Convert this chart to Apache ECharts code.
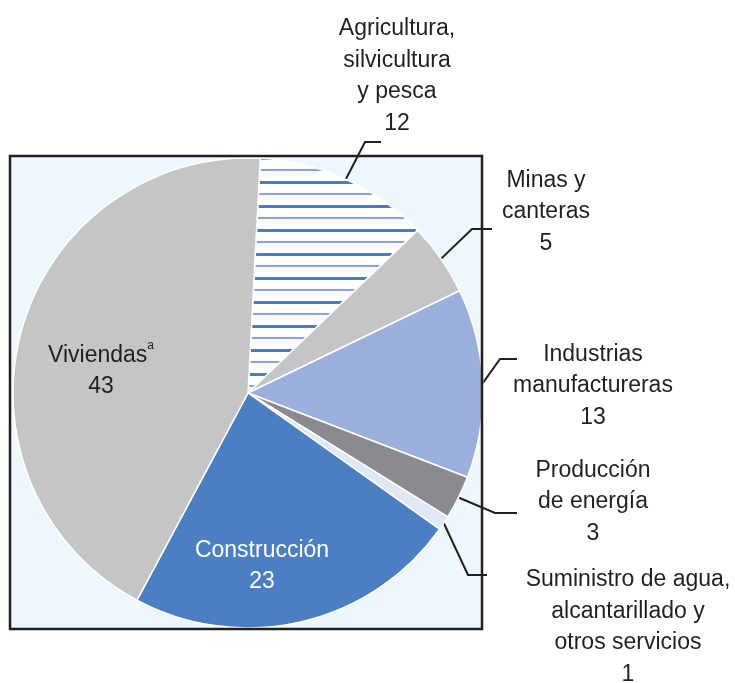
<!DOCTYPE html>
<html><head><meta charset="utf-8">
<script src="https://cdn.jsdelivr.net/npm/echarts@6/dist/echarts.min.js"></script>
<style>html,body{margin:0;padding:0;background:#fff}#c{width:735px;height:683px}</style>
</head><body><div id="c"></div>
<script>
// ---- data ----
const categories = [
  'Agricultura, silvicultura y pesca',
  'Minas y canteras',
  'Industrias manufactureras',
  'Producción de energía',
  'Suministro de agua, alcantarillado y otros servicios',
  'Construcción',
  'Viviendas'
];
const labelTexts = [
  'Agricultura,\nsilvicultura\ny pesca',
  'Minas y\ncanteras',
  'Industrias\nmanufactureras',
  'Producción\nde energía',
  'Suministro de agua,\nalcantarillado y\notros servicios',
  'Construcción',
  'Viviendas{sup|a}'
];
const values = [12, 5, 13, 3, 1, 23, 43];

// ---- styling / layout (kept separate from data) ----
function stripePattern() {
  const cv = document.createElement('canvas');
  cv.width = 8; cv.height = 24;
  const ctx = cv.getContext('2d');
  ctx.fillStyle = '#ffffff'; ctx.fillRect(0, 0, 8, 24);
  ctx.fillStyle = '#86a5d8'; ctx.fillRect(0, 1, 8, 2);
  ctx.fillStyle = '#4a7cc4'; ctx.fillRect(0, 13, 8, 3);
  return { image: cv, repeat: 'repeat' };
}
const sliceColors = [stripePattern(), '#c4c5c7', '#9aafdb', '#898b8f', '#e1e8f5', '#4b7fc2', '#c4c5c7'];
const labelColors = ['#231f20', '#231f20', '#231f20', '#231f20', '#231f20', '#ffffff', '#231f20'];
const inside = [false, false, false, false, false, true, true];
const labelPlacement = [
  { x: 397, y: 76, elbow: [365, 142], end: [381, 142] },
  { x: 546, y: 212, elbow: [472, 229], end: [492, 229] },
  { x: 593, y: 386, elbow: [500, 359], end: [517, 359] },
  { x: 593, y: 502, elbow: [495, 513], end: [517, 513] },
  { x: 628, y: 627, elbow: [468, 575], end: [487, 575] },
  { x: 262, y: 566 },
  { x: 101, y: 371 }
];

const chart = echarts.init(document.getElementById('c'), null, { renderer: 'canvas' });
const dataItems = categories.map((name, i) => ({
  name: name,
  value: values[i],
  itemStyle: { color: sliceColors[i] },
  label: { position: inside[i] ? 'inside' : 'outside', color: labelColors[i] },
  labelLine: { show: !inside[i] }
}));

chart.setOption({
  animation: false,
  graphic: [
    { type: 'rect', z: -10, shape: { x: 10, y: 156, width: 472, height: 473 },
      style: { fill: '#eef7fc', stroke: null } },
    { type: 'rect', z: 100, shape: { x: 10, y: 156, width: 472, height: 473 },
      style: { fill: null, stroke: '#231f20', lineWidth: 2.5 } }
  ],
  series: [{
    type: 'pie',
    center: [248, 393],
    radius: 235,
    startAngle: 87,
    clockwise: true,
    avoidLabelOverlap: false,
    itemStyle: { borderColor: '#ffffff', borderWidth: 1.5 },
    label: {
      show: true,
      overflow: 'none',
      fontFamily: 'Liberation Sans, Arial, sans-serif',
      fontSize: 23,
      lineHeight: 31.5,
      formatter: (p) => labelTexts[p.dataIndex] + '\n' + p.value,
      rich: {
        sup: { fontSize: 12, lineHeight: 14, verticalAlign: 'top', color: '#231f20',
               fontFamily: 'Liberation Sans, Arial, sans-serif' }
      }
    },
    labelLine: { show: true, length: 20, length2: 15, lineStyle: { color: '#231f20', width: 2 } },
    labelLayout: function (params) {
      const p = labelPlacement[params.dataIndex];
      const out = { x: p.x, y: p.y, align: 'center', verticalAlign: 'middle' };
      if (p.elbow && params.labelLinePoints) {
        out.labelLinePoints = [params.labelLinePoints[0], p.elbow, p.end];
      }
      return out;
    },
    emphasis: { disabled: true },
    data: dataItems
  }]
});
</script>
</body></html>
